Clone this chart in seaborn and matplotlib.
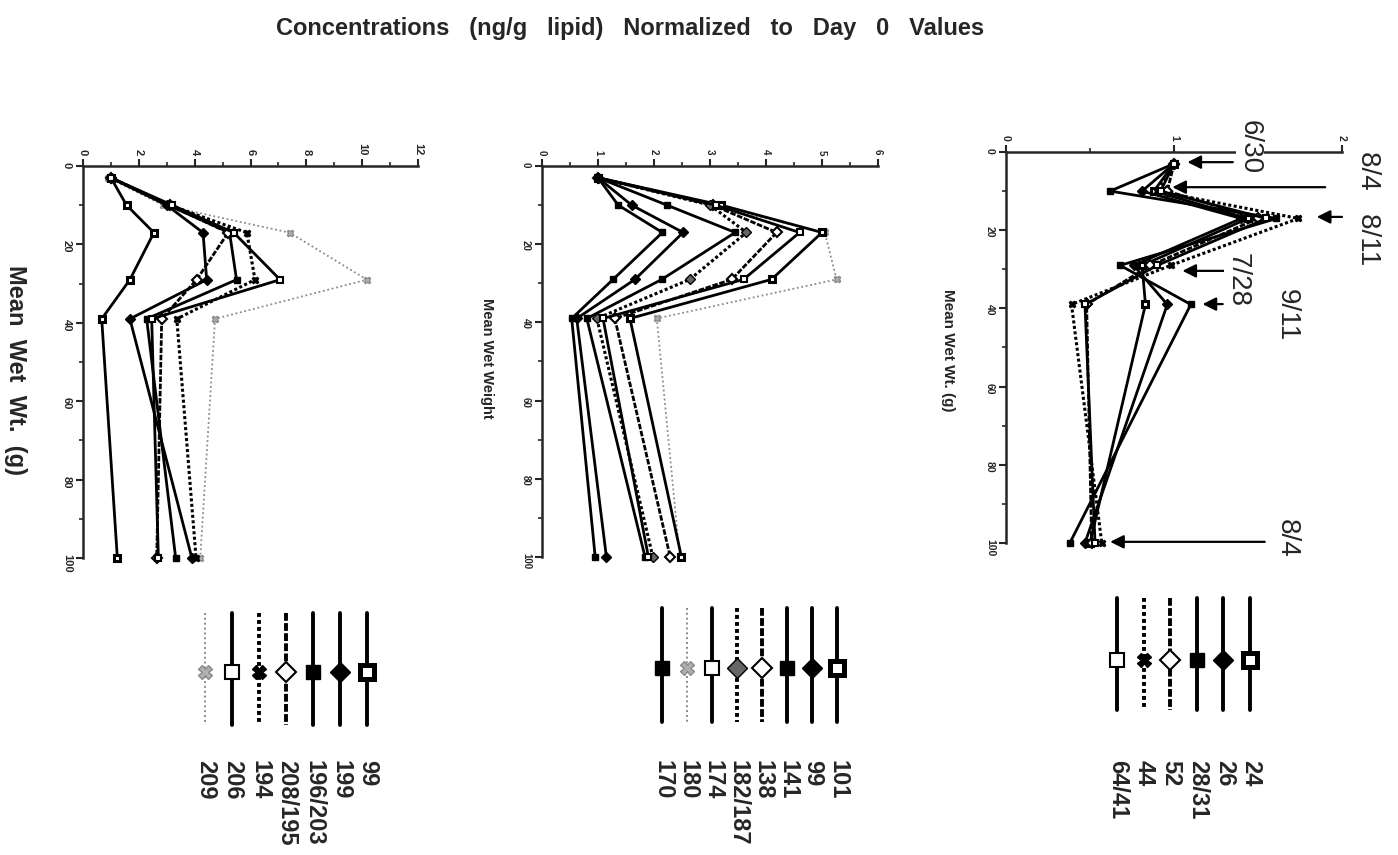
import numpy as np
import pandas as pd
import matplotlib
matplotlib.use("Agg")
import matplotlib.pyplot as plt
from matplotlib.ticker import MultipleLocator
import seaborn as sns

# mean wet weight (g) at each sampling
weights = [3, 10, 17, 29, 39, 100]

# panel 1 - concentrations normalized to day 0
p1_labels = ["99", "199", "196/203", "208/195", "194", "206", "209"]
p1_99 = [1.0, 1.56, 2.54, 1.68, 0.67, 1.23]
p1_199 = [1.0, 3.00, 4.30, 4.43, 1.68, 3.90]
p1_196 = [1.0, 3.05, 5.25, 5.50, 2.28, 3.32]
p1_208 = [1.0, 3.10, 5.20, 4.07, 2.82, 2.64]
p1_194 = [1.0, 3.10, 5.87, 6.16, 3.36, 4.05]
p1_206 = [1.0, 3.20, 5.40, 7.06, 2.46, 2.70]
p1_209 = [0.9, 2.87, 7.40, 10.17, 4.73, 4.20]
p1_kinds = ["sqdot", "dia", "sq", "odia", "x", "osq", "gray"]

# panel 2
p2_labels = ["101", "99", "141", "138", "182/187", "174", "180", "170"]
p2_101 = [1.0, 3.20, 5.00, 4.10, 1.57, 2.49]
p2_99 = [1.0, 1.60, 2.52, 1.66, 0.62, 1.15]
p2_141 = [1.0, 2.23, 3.45, 2.14, 0.80, 1.84]
p2_138 = [1.0, 3.05, 4.19, 3.39, 1.30, 2.29]
p2_182 = [1.0, 3.00, 3.65, 2.64, 0.98, 1.98]
p2_174 = [1.0, 3.10, 4.60, 3.60, 1.09, 1.90]
p2_180 = [1.0, 3.00, 5.05, 5.26, 2.05, 2.46]
p2_170 = [1.0, 1.36, 2.15, 1.27, 0.53, 0.95]
p2_kinds = ["sqdot", "dia", "sq", "odia", "hdia", "osq", "gray", "sq"]

# panel 3
p3_labels = ["24", "26", "28/31", "52", "44", "64/41"]
p3_24 = [1.0, 0.88, 1.44, 0.81, 0.83, 0.50]
p3_26 = [1.0, 0.81, 1.40, 0.76, 0.96, 0.47]
p3_28 = [1.0, 0.62, 1.61, 0.68, 1.10, 0.38]
p3_52 = [1.0, 0.96, 1.50, 0.86, 0.48, 0.51]
p3_44 = [1.0, 0.90, 1.74, 0.98, 0.39, 0.57]
p3_64 = [1.0, 0.92, 1.55, 0.90, 0.47, 0.53]
p3_kinds = ["sqdot", "dia", "sq", "odia", "x", "osq"]

# sampling dates marked on panel 3
date_labels = ["6/30", "8/4   8/11", "7/28", "9/11", "8/4"]
arrow_w = [2.6, 9.0, 16.6, 30.4, 38.9, 99.7]
arrow_tip = [1.08, 0.99, 1.85, 1.05, 1.17, 0.62]
arrow_tail = [1.35, 1.90, 2.00, 1.33, 1.29, 1.54]


def style(kind, big=False):
    s = dict(color="black", linestyle="-", linewidth=2.0, marker="s",
             markersize=5, markerfacecolor="black", markeredgecolor="black",
             markeredgewidth=1.0)
    if kind == "sqdot":
        s.update(markerfacecolor="white", markeredgewidth=2.2)
    elif kind == "dia":
        s.update(marker="D")
    elif kind == "odia":
        s.update(marker="D", markerfacecolor="white", linestyle=(0, (2, 0.6)),
                 markeredgewidth=1.5)
    elif kind == "x":
        s.update(marker="X", linestyle=(0, (1, 0.8)), linewidth=2.2)
    elif kind == "hdia":
        s.update(marker="D", markerfacecolor="#666666", linestyle=(0, (1, 0.8)),
                 linewidth=2.2)
    elif kind == "osq":
        s.update(markerfacecolor="white", markeredgewidth=1.5)
    elif kind == "gray":
        s.update(color="#8a8a8a", linestyle=(0, (1, 1.5)), linewidth=1.3,
                 marker="X", markerfacecolor="#b0b0b0", markeredgecolor="#8a8a8a")
    if big:
        s["markersize"] = 10
        s["linewidth"] = 2.8 if kind != "gray" else 1.4
        if kind == "sqdot":
            s["markeredgewidth"] = 3.6
    return s


sns.set_style("ticks")
plt.rcParams["font.family"] = ["Liberation Sans", "DejaVu Sans"]
plt.rcParams["font.weight"] = "bold"

fig = plt.figure(figsize=(13.98, 8.55), dpi=100)
W, H = 1398, 855

panels = [
    dict(rect=(83, 166, 418, 558), xmax=12, major=2, minor=1,
         series=[p1_99, p1_199, p1_196, p1_208, p1_194, p1_206, p1_209],
         kinds=p1_kinds, tsize=8),
    dict(rect=(542, 166, 878, 557), xmax=6, major=1, minor=0.5,
         series=[p2_101, p2_99, p2_141, p2_138, p2_182, p2_174, p2_180, p2_170],
         kinds=p2_kinds, tsize=7),
    dict(rect=(1006, 152, 1342, 543), xmax=2, major=1, minor=0.5,
         series=[p3_24, p3_26, p3_28, p3_52, p3_44, p3_64],
         kinds=p3_kinds, tsize=7.5),
]

axes = []
for p in panels:
    x0, y0, x1, y1 = p["rect"]
    ax = fig.add_axes([x0 / W, 1 - y1 / H, (x1 - x0) / W, (y1 - y0) / H])
    # draw the dotted gray ones first so the solid ones sit on top
    order = sorted(range(len(p["series"])), key=lambda i: p["kinds"][i] != "gray")
    for i in order:
        sns.lineplot(x=p["series"][i], y=weights, ax=ax, sort=False,
                     estimator=None, clip_on=False, **style(p["kinds"][i]))
    ax.set_xlim(0, p["xmax"])
    ax.set_ylim(100, 0)
    ax.xaxis.tick_top()
    ax.xaxis.set_major_locator(MultipleLocator(p["major"]))
    ax.xaxis.set_minor_locator(MultipleLocator(p["minor"]))
    ax.yaxis.set_major_locator(MultipleLocator(20))
    ax.yaxis.set_minor_locator(MultipleLocator(10))
    for side in ["right", "bottom"]:
        ax.spines[side].set_visible(False)
    for side in ["top", "left"]:
        ax.spines[side].set_linewidth(1.8)
    ax.tick_params(which="major", direction="out", length=5, width=1.5,
                   labelsize=p["tsize"], pad=3)
    ax.tick_params(which="minor", direction="out", length=3, width=1.2)
    ax.set_xlabel("")
    ax.set_ylabel("")
    for lab in ax.get_xticklabels() + ax.get_yticklabels():
        lab.set_rotation(-90)
    ax.patch.set_alpha(0)
    axes.append(ax)

# arrows on the right panel
for w, tip, tail in zip(arrow_w, arrow_tip, arrow_tail):
    axes[2].annotate("", xy=(tip, w), xytext=(tail, w), annotation_clip=False,
                     arrowprops=dict(arrowstyle="-|>", color="black", lw=1.6,
                                     mutation_scale=20, shrinkA=0, shrinkB=0))

# overlay in pixel coordinates for title, axis labels, legends, date labels
ov = fig.add_axes([0, 0, 1, 1])
ov.set_xlim(0, W)
ov.set_ylim(H, 0)
ov.axis("off")

ov.text(630, 28, "Concentrations   (ng/g   lipid)   Normalized   to   Day   0   Values",
        ha="center", va="center", fontsize=17, fontweight="bold")

ov.text(15, 370, "Mean  Wet  Wt.  (g)", rotation=-90, ha="center", va="center",
        fontsize=17, fontweight="bold")
ov.text(487, 358, "Mean Wet Weight", rotation=-90, ha="center", va="center",
        fontsize=10.5, fontweight="bold")
ov.text(948, 350, "Mean Wet Wt. (g)", rotation=-90, ha="center", va="center",
        fontsize=11, fontweight="bold")

legends = [
    dict(labels=p1_labels, kinds=p1_kinds, x0=367, dx=-27, y0=613, y1=725, ym=672),
    dict(labels=p2_labels, kinds=p2_kinds, x0=837, dx=-25, y0=608, y1=722, ym=668),
    dict(labels=p3_labels, kinds=p3_kinds, x0=1250, dx=-26.6, y0=598, y1=710, ym=660),
]
for lg in legends:
    for i, (lab, kind) in enumerate(zip(lg["labels"], lg["kinds"])):
        x = lg["x0"] + i * lg["dx"]
        s = style(kind, big=True)
        ov.plot([x, x], [lg["y0"], lg["y1"]], color=s["color"],
                linestyle=s["linestyle"], linewidth=s["linewidth"])
        ov.plot([x], [lg["ym"]], linestyle="none", marker=s["marker"],
                markersize=s["markersize"], markerfacecolor=s["markerfacecolor"],
                markeredgecolor=s["markeredgecolor"],
                markeredgewidth=s["markeredgewidth"])
        ov.text(x + 1, 760, lab, rotation=-90, ha="center", va="top",
                fontsize=17, fontweight="bold")

# date labels beside the arrows
date_pos = [(1250, 147), (1368, 208), (1238, 280), (1287, 315), (1287, 538)]
for lab, (x, y) in zip(date_labels, date_pos):
    ov.text(x, y, lab, rotation=-90, ha="center", va="center", fontsize=20,
            fontweight="normal",
            bbox=dict(facecolor="white", edgecolor="none", pad=1))

fig.savefig("out.png", dpi=100)
